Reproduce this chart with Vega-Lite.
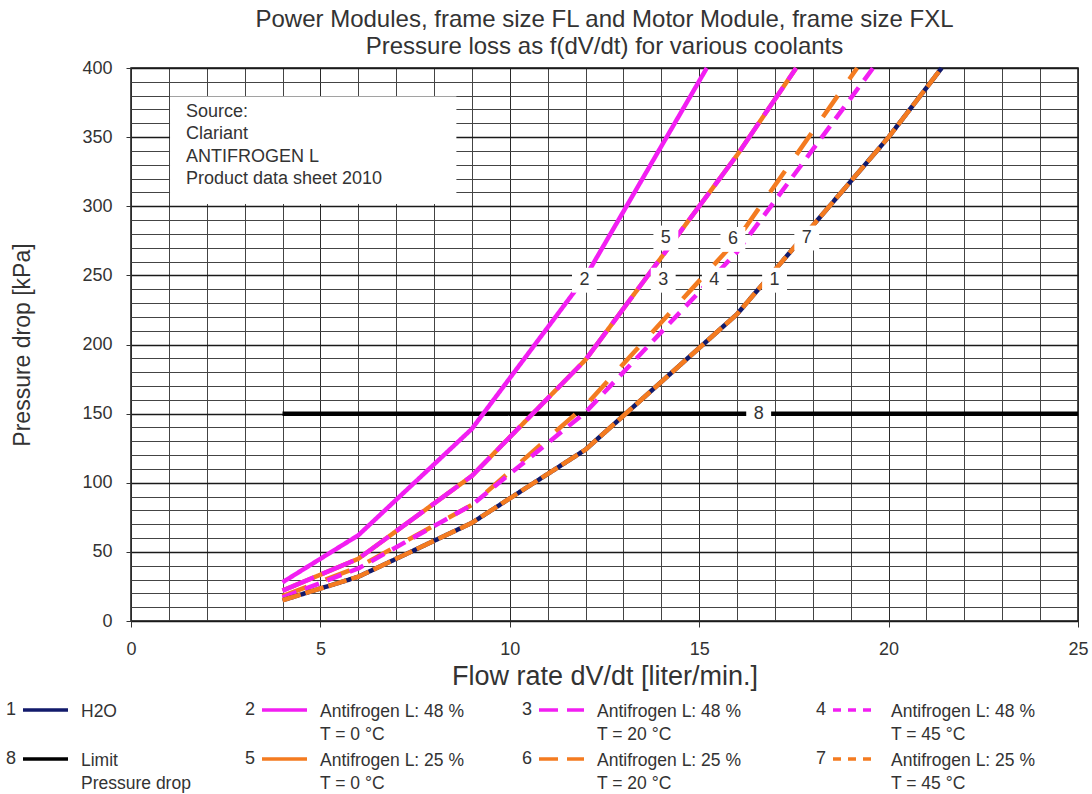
{
  "$schema": "https://vega.github.io/schema/vega-lite/v6.json",
  "width": 947,
  "height": 553,
  "autosize": {"type": "none"},
  "padding": {"left": 131, "top": 68, "right": 14, "bottom": 173},
  "background": "white",
  "config": {
    "font": "Liberation Sans",
    "view": {"stroke": "#111", "strokeWidth": 1.5},
    "text": {"font": "Liberation Sans"}
  },
  "title": {
    "text": ["Power Modules, frame size FL and Motor Module, frame size FXL", "Pressure loss as f(dV/dt) for various coolants"],
    "font": "Liberation Sans",
    "fontSize": 24,
    "fontWeight": "normal",
    "color": "#333",
    "lineHeight": 27,
    "anchor": "middle",
    "frame": "group",
    "offset": 0
  },
  "datasets": {
    "curves": [
      {"s": "8", "x": 4, "y": 150}, {"s": "8", "x": 25, "y": 150},
      {"s": "2", "x": 4, "y": 28}, {"s": "2", "x": 6, "y": 62}, {"s": "2", "x": 9, "y": 139}, {"s": "2", "x": 12, "y": 249}, {"s": "2", "x": 15.2, "y": 400},
      {"s": "5", "x": 4, "y": 22}, {"s": "5", "x": 6, "y": 45}, {"s": "5", "x": 9, "y": 105}, {"s": "5", "x": 12, "y": 189}, {"s": "5", "x": 16, "y": 337}, {"s": "5", "x": 17.56, "y": 400},
      {"s": "3", "x": 4, "y": 22}, {"s": "3", "x": 6, "y": 45}, {"s": "3", "x": 9, "y": 105}, {"s": "3", "x": 12, "y": 189}, {"s": "3", "x": 16, "y": 337}, {"s": "3", "x": 17.56, "y": 400},
      {"s": "6", "x": 4, "y": 18}, {"s": "6", "x": 6, "y": 39}, {"s": "6", "x": 9, "y": 84}, {"s": "6", "x": 12, "y": 156}, {"s": "6", "x": 16, "y": 276}, {"s": "6", "x": 19.17, "y": 400},
      {"s": "4", "x": 4, "y": 17}, {"s": "4", "x": 6, "y": 38}, {"s": "4", "x": 9, "y": 84}, {"s": "4", "x": 12, "y": 151}, {"s": "4", "x": 16, "y": 267}, {"s": "4", "x": 19.59, "y": 400},
      {"s": "1", "x": 4, "y": 15}, {"s": "1", "x": 6, "y": 32}, {"s": "1", "x": 9, "y": 71}, {"s": "1", "x": 12, "y": 124}, {"s": "1", "x": 16, "y": 222}, {"s": "1", "x": 20, "y": 350}, {"s": "1", "x": 21.4, "y": 400},
      {"s": "7", "x": 4, "y": 15}, {"s": "7", "x": 6, "y": 32}, {"s": "7", "x": 9, "y": 71}, {"s": "7", "x": 12, "y": 124}, {"s": "7", "x": 16, "y": 222}, {"s": "7", "x": 20, "y": 350}, {"s": "7", "x": 21.4, "y": 400}
    ],
    "labels": [
      {"n": "2", "x": 11.97, "y": 246.5},
      {"n": "3", "x": 14.05, "y": 246.5},
      {"n": "5", "x": 14.12, "y": 277},
      {"n": "4", "x": 15.4, "y": 246.5},
      {"n": "6", "x": 15.89, "y": 276},
      {"n": "1", "x": 16.99, "y": 246.5},
      {"n": "7", "x": 17.84, "y": 277},
      {"n": "8", "x": 16.57, "y": 150}
    ],
    "legend": [
      {"n": "1", "col": 1, "row": 1, "text": "H2O"},
      {"n": "2", "col": 2, "row": 1, "text": "Antifrogen L: 48 %\nT = 0 °C"},
      {"n": "3", "col": 3, "row": 1, "text": "Antifrogen L: 48 %\nT = 20 °C"},
      {"n": "4", "col": 4, "row": 1, "text": "Antifrogen L: 48 %\nT = 45 °C"},
      {"n": "8", "col": 1, "row": 2, "text": "Limit\nPressure drop"},
      {"n": "5", "col": 2, "row": 2, "text": "Antifrogen L: 25 %\nT = 0 °C"},
      {"n": "6", "col": 3, "row": 2, "text": "Antifrogen L: 25 %\nT = 20 °C"},
      {"n": "7", "col": 4, "row": 2, "text": "Antifrogen L: 25 %\nT = 45 °C"}
    ]
  },
  "resolve": {"scale": {"x": "independent", "y": "independent", "strokeDash": "independent"}},
  "layer": [
    {
      "layer": [
        {
          "data": {"name": "curves"},
          "transform": [{"filter": "datum.s !== '3' && datum.s !== '7'"}],
          "mark": {"type": "line", "strokeWidth": 4.5, "strokeCap": "butt", "strokeJoin": "round"},
          "encoding": {
            "x": {
              "field": "x", "type": "quantitative",
              "scale": {"domain": [0, 25], "nice": false, "zero": false},
              "axis": {
                "values": [0,1,2,3,4,5,6,7,8,9,10,11,12,13,14,15,16,17,18,19,20,21,22,23,24,25],
                "tickCount": 200,
                "format": "d",
                "labelExpr": "datum.value % 5 === 0 ? datum.label : ''",
                "grid": true,
                "gridColor": {"condition": {"test": "datum.value % 5 === 0", "value": "#2a2a2a"}, "value": "#444"},
                "gridWidth": 1,
                "domain": false,
                "tickSize": 6,
                "tickColor": "#333",
                "tickOpacity": {"condition": {"test": "datum.value % 5 === 0", "value": 1}, "value": 0},
                "labelFontSize": 18,
                "labelColor": "#333",
                "labelPadding": 13,
                "labelOverlap": false,
                "labelFlush": false,
                "title": "Flow rate dV/dt [liter/min.]",
                "titleFontSize": 27,
                "titleFontWeight": "normal",
                "titleColor": "#333",
                "titlePadding": 5
              }
            },
            "y": {
              "field": "y", "type": "quantitative",
              "scale": {"domain": [0, 400], "nice": false, "zero": false},
              "axis": {
                "values": [0,10,20,30,40,50,60,70,80,90,100,110,120,130,140,150,160,170,180,190,200,210,220,230,240,250,260,270,280,290,300,310,320,330,340,350,360,370,380,390,400],
                "tickCount": 200,
                "format": "d",
                "labelExpr": "datum.value % 50 === 0 ? datum.label : ''",
                "grid": true,
                "gridColor": {"condition": {"test": "datum.value % 50 === 0", "value": "#1a1a1a"}, "value": "#444"},
                "gridWidth": {"condition": {"test": "datum.value % 50 === 0", "value": 1.3}, "value": 1},
                "domain": false,
                "tickSize": 5,
                "tickColor": "#333",
                "tickOpacity": {"condition": {"test": "datum.value % 50 === 0", "value": 1}, "value": 0},
                "labelFontSize": 18,
                "labelColor": "#333",
                "labelPadding": 14,
                "labelOverlap": false,
                "labelFlush": false,
                "title": "Pressure drop [kPa]",
                "titleFontSize": 23,
                "titleFontWeight": "normal",
                "titleColor": "#333",
                "titlePadding": 47
              }
            },
            "color": {
              "field": "s", "type": "nominal",
              "scale": {"domain": ["1","2","3","4","5","6","7","8"], "range": ["#121a6b","#f21ef2","#f21ef2","#f21ef2","#f47b20","#f47b20","#f47b20","#000000"]},
              "legend": null
            },
            "strokeDash": {
              "field": "s", "type": "nominal",
              "scale": {"domain": ["1","2","3","4","5","6","7","8"], "range": [[1,0],[1,0],[34,9],[15,9],[1,0],[26,20],[19,5],[1,0]]},
              "legend": null
            }
          }
        },
        {
          "data": {"name": "curves"},
          "transform": [{"filter": "datum.s === '3' || datum.s === '7'"}],
          "mark": {"type": "line", "strokeWidth": 4.5, "strokeCap": "butt", "strokeJoin": "round"},
          "encoding": {
            "x": {"field": "x", "type": "quantitative"},
            "y": {"field": "y", "type": "quantitative"},
            "color": {"field": "s", "type": "nominal", "legend": null},
            "strokeDash": {"field": "s", "type": "nominal", "legend": null}
          }
        },
        {
          "data": {"values": [{}]},
          "mark": {"type": "rect", "fill": "white"},
          "encoding": {
            "x": {"datum": 1.03, "type": "quantitative"},
            "x2": {"datum": 8.59},
            "y": {"datum": 301.6, "type": "quantitative"},
            "y2": {"datum": 379.4}
          }
        },
        {
          "data": {"values": [{}]},
          "mark": {"type": "text", "align": "left", "baseline": "middle", "fontSize": 18, "color": "#333", "lineHeight": 22.6,
                   "text": ["Source:", "Clariant", "ANTIFROGEN L", "Product data sheet 2010"]},
          "encoding": {
            "x": {"datum": 1.45, "type": "quantitative"},
            "y": {"datum": 368.4, "type": "quantitative"}
          }
        },
        {
          "data": {"name": "labels"},
          "mark": {"type": "point", "shape": "square", "filled": true, "color": "white", "opacity": 1, "size": 620, "strokeWidth": 0},
          "encoding": {
            "x": {"field": "x", "type": "quantitative"},
            "y": {"field": "y", "type": "quantitative"}
          }
        },
        {
          "data": {"name": "labels"},
          "mark": {"type": "text", "align": "center", "baseline": "middle", "fontSize": 18, "color": "#333"},
          "encoding": {
            "x": {"field": "x", "type": "quantitative"},
            "y": {"field": "y", "type": "quantitative"},
            "text": {"field": "n"}
          }
        }
      ]
    },
    {
      "data": {"name": "legend"},
      "encoding": {
        "x": {"field": "col", "type": "quantitative", "scale": {"domain": [1,2,3,4], "range": [-125,114,391,685], "zero": false, "nice": false}, "axis": null},
        "y": {"field": "row", "type": "quantitative", "scale": {"domain": [1,2], "range": [642,691], "zero": false, "nice": false}, "axis": null}
      },
      "layer": [
        {
          "mark": {"type": "text", "align": "left", "baseline": "middle", "fontSize": 18, "color": "#333"},
          "encoding": {"text": {"field": "n"}}
        },
        {
          "mark": {"type": "rule", "xOffset": 17, "x2Offset": 62, "strokeWidth": 3.5, "strokeCap": "butt"},
          "encoding": {
            "x2": {"field": "col"},
            "color": {"field": "n", "type": "nominal", "legend": null},
            "strokeDash": {
              "field": "n", "type": "nominal",
              "scale": {"domain": ["1","2","3","4","5","6","7","8"], "range": [[1,0],[1,0],[19,9],[8,7],[1,0],[19,9],[8,7],[1,0]]},
              "legend": null
            }
          }
        },
        {
          "mark": {"type": "text", "align": "left", "baseline": "top", "dx": 75, "dy": -7, "fontSize": 17.5, "color": "#333", "lineBreak": "\n", "lineHeight": 23},
          "encoding": {"text": {"field": "text"}}
        }
      ]
    }
  ]
}
